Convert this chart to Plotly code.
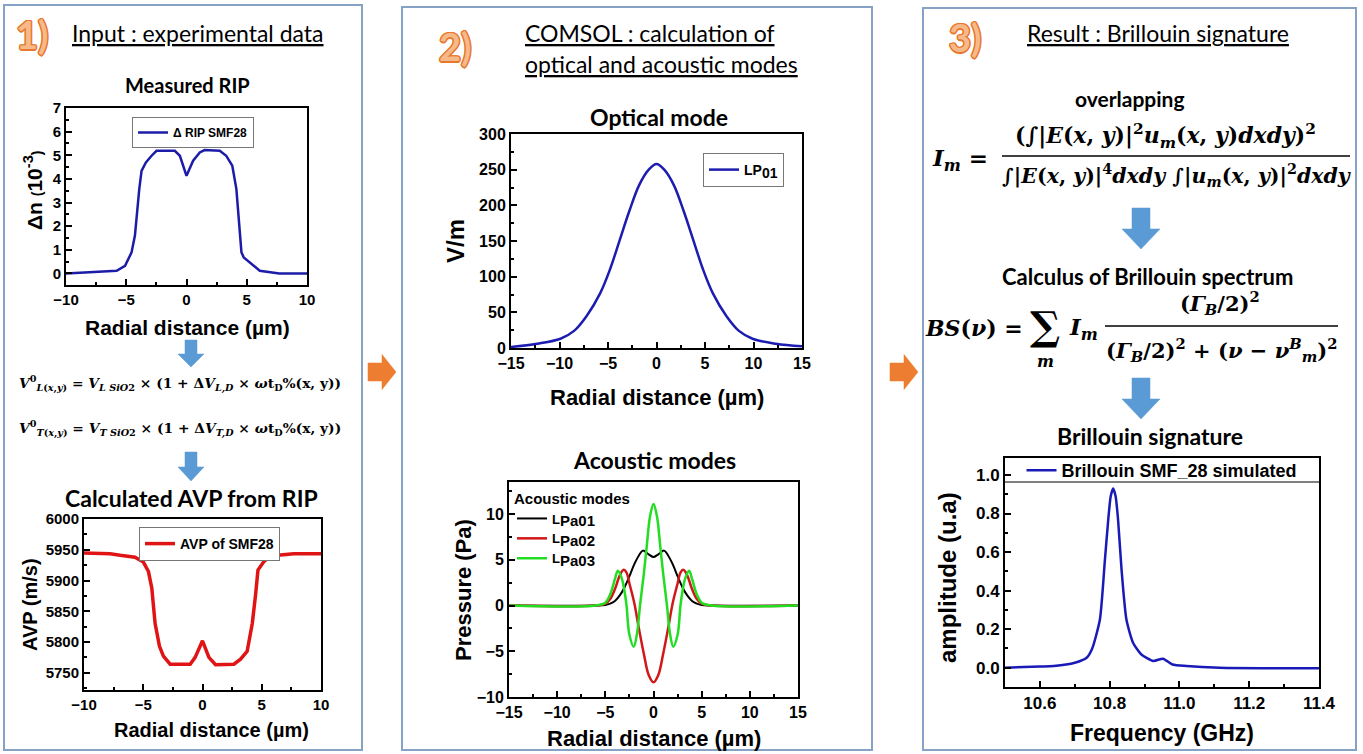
import plotly.graph_objects as go

W, H = 1363, 754

# ------------------------------------------------------------------ data
# Panel 1 - measured refractive index profile (RIP)
rip_x = [-10, -7.2, -5.8, -5.1, -4.56, -4.28, -4.14, -3.92, -3.73, -3.37, -2.9, -2.49,
         -0.97, -0.55, 0, 0.55, 1.1, 1.5, 2.76, 3.3, 3.8, 4.14, 4.36, 4.56, 4.75, 5.25,
         6.08, 7.7, 10]
rip_y = [0, 0.07, 0.11, 0.32, 0.89, 1.6, 2.44, 3.57, 4.34, 4.70, 4.98, 5.19,
         5.19, 4.98, 4.13, 4.77, 5.12, 5.22, 5.19, 4.98, 4.56, 3.57, 2.16, 0.89, 0.68, 0.47,
         0.11, 0.0, 0]

# Panel 1 - acoustic velocity profile (AVP)
avp_x = [-10, -7.8, -6.96, -5.7, -4.99, -4.56, -4.28, -4.0, -3.63, -3.3, -2.73, -1.04,
         -0.62, 0, 0.54, 1.1, 2.65, 3.21, 3.77, 4.2, 4.48, 4.68, 5.15, 5.7, 7.7, 10]
avp_y = [5944.6, 5943.6, 5941, 5938, 5930, 5914.6, 5888, 5830, 5793, 5777, 5764, 5764,
         5775, 5802, 5775, 5763, 5764, 5772, 5785, 5830, 5877, 5917, 5930, 5940, 5943.6, 5943.6]

# Panel 2 - optical mode LP01
opt_x = [-15, -12.3, -9.9, -8.5, -7.2, -5.8, -4.8, -3.8, -2.8, -1.8, -0.8, 0, 0.8,
         1.8, 2.8, 3.8, 4.8, 5.8, 7.2, 8.5, 9.9, 12.3, 15]
opt_y = [1.4, 6, 13, 24, 45, 77, 110, 151, 192, 228, 250, 258, 250,
         228, 192, 151, 110, 77, 45, 24, 13, 6, 2.3]

# Panel 2 - acoustic modes
ac_x1 = [-15, -6, -5, -4.5, -4, -3.5, -3, -2.5, -2, -1.5, -1.1, -0.5, 0,
         0.5, 1.1, 1.5, 2, 2.5, 3, 3.5, 4, 4.5, 5, 6, 15]
ac_y1 = [0, 0, 0.05, 0.2, 0.5, 1.1, 2.0, 3.2, 4.5, 5.5, 6.0, 5.6, 5.3,
         5.6, 6.0, 5.5, 4.5, 3.2, 2.0, 1.1, 0.5, 0.2, 0.05, 0, 0]
ac_x2 = [-15, -6, -5, -4.5, -4, -3.5, -3.1, -2.8, -2.5, -2, -1.5, -1, -0.5, 0,
         0.5, 1, 1.5, 2, 2.5, 2.8, 3.1, 3.5, 4, 4.5, 5, 6, 15]
ac_y2 = [0, 0, 0.2, 0.7, 1.8, 3.3, 3.9, 3.6, 2.4, 0.3, -2.6, -5.3, -7.6, -8.4,
         -7.6, -5.3, -2.6, 0.3, 2.4, 3.6, 3.9, 3.3, 1.8, 0.7, 0.2, 0, 0]
ac_x3 = [-15, -6, -5, -4.5, -4, -3.7, -3.3, -3, -2.8, -2.5, -2.05, -1.7, -1.4, -1.0, -0.7,
         -0.35, 0, 0.35, 0.7, 1.0, 1.4, 1.7, 2.05, 2.5, 2.8, 3, 3.3, 3.7, 4, 4.5, 5, 6, 15]
ac_y3 = [0, 0, 0.3, 1.2, 2.9, 3.8, 3.0, 1.5, 0, -3.2, -4.5, -3.0, 0, 3.5, 6.5,
         9.8, 11.1, 9.8, 6.5, 3.5, 0, -3.0, -4.5, -3.2, 0, 1.5, 3.0, 3.8, 2.9, 1.2, 0.3, 0, 0]

# Panel 3 - Brillouin spectrum
bs_x = [10.5, 10.6, 10.64, 10.7, 10.734, 10.75, 10.772, 10.786, 10.796, 10.803, 10.81,
        10.817, 10.824, 10.834, 10.848, 10.867, 10.89, 10.925, 10.953, 10.98, 11.02,
        11.115, 11.4]
bs_y = [0.0, 0.006, 0.009, 0.026, 0.052, 0.1, 0.25, 0.55, 0.77, 0.89, 0.93,
        0.89, 0.77, 0.51, 0.25, 0.13, 0.07, 0.035, 0.047, 0.017, 0.009,
        0.0, -0.003]

# ------------------------------------------------------------------ helpers
def fx(x):
    return x / W

def fy(y):
    return 1 - y / H

def dom_x(a, b):
    return [a / W, b / W]

def dom_y(top, bot):
    return [1 - bot / H, 1 - top / H]

def tickfont(s):
    return dict(family="Liberation Sans", size=s, color="black", weight="bold")

def axis(domain, rng, dtick, mdtick, anchor, fs=14, tick0=None, fmt=None):
    d = dict(domain=domain, range=rng, dtick=dtick, anchor=anchor, showline=True,
             linecolor="black", linewidth=2, mirror=True, ticks="inside", ticklen=6,
             tickwidth=1.5, tickcolor="black", showgrid=False, zeroline=False,
             tickfont=tickfont(fs), fixedrange=True,
             minor=dict(dtick=mdtick, ticks="inside", ticklen=3, tickwidth=1.5,
                        tickcolor="black", showgrid=False))
    if tick0 is not None:
        d["tick0"] = tick0
        d["minor"]["tick0"] = tick0
    if fmt:
        d["tickformat"] = fmt
    return d

def sub_name(base, sub, size):
    return f"{base}<sub><span style='font-size:{size}px'>{sub}</span></sub>"

fig = go.Figure()

fig.add_trace(go.Scatter(x=rip_x, y=rip_y, mode="lines", name="Δ RIP SMF28",
                         line=dict(color="#1c1ca8", width=2.5), xaxis="x", yaxis="y",
                         legend="legend"))
fig.add_trace(go.Scatter(x=avp_x, y=avp_y, mode="lines", name="AVP of SMF28",
                         line=dict(color="#e01414", width=3.5), xaxis="x2", yaxis="y2",
                         legend="legend2"))
fig.add_trace(go.Scatter(x=opt_x, y=opt_y, mode="lines", name=sub_name("LP", "01", 14),
                         line=dict(color="#1c1cb0", width=2.5, shape="spline"),
                         xaxis="x3", yaxis="y3", legend="legend3"))
fig.add_trace(go.Scatter(x=ac_x1, y=ac_y1, mode="lines", name=sub_name("L", "Pa01", 15),
                         line=dict(color="black", width=2, shape="spline"),
                         xaxis="x4", yaxis="y4", legend="legend4"))
fig.add_trace(go.Scatter(x=ac_x2, y=ac_y2, mode="lines", name=sub_name("L", "Pa02", 15),
                         line=dict(color="#d01818", width=2.5, shape="spline"),
                         xaxis="x4", yaxis="y4", legend="legend4"))
fig.add_trace(go.Scatter(x=ac_x3, y=ac_y3, mode="lines", name=sub_name("L", "Pa03", 15),
                         line=dict(color="#22dd22", width=2.5, shape="spline"),
                         xaxis="x4", yaxis="y4", legend="legend4"))
fig.add_trace(go.Scatter(x=bs_x, y=bs_y, mode="lines", name="Brillouin SMF_28 simulated",
                         line=dict(color="#1a1ab8", width=2.5, shape="spline", smoothing=0.6),
                         xaxis="x5", yaxis="y5", legend="legend5"))

legfont = dict(family="Liberation Sans", size=12, color="black", weight="bold")

layout = dict(
    width=W, height=H, margin=dict(l=0, r=0, t=0, b=0, autoexpand=False),
    paper_bgcolor="white", plot_bgcolor="white", showlegend=True,
    xaxis=axis(dom_x(66, 307), [-10, 10], 5, 2.5, "y", fs=15),
    yaxis=axis(dom_y(108, 285), [-0.49, 7], 1, 0.5, "x", fs=15),
    xaxis2=axis(dom_x(84, 321), [-10, 10], 5, 2.5, "y2", fs=15),
    yaxis2=axis(dom_y(519, 690), [5722, 6000], 50, 25, "x2", fs=15, tick0=5750),
    xaxis3=axis(dom_x(511, 802), [-15, 15], 5, 2.5, "y3", fs=16),
    yaxis3=axis(dom_y(134, 348), [0, 300], 50, 25, "x3", fs=16),
    xaxis4=axis(dom_x(509, 798), [-15, 15], 5, 2.5, "y4", fs=16),
    yaxis4=axis(dom_y(482, 697), [-10, 13.5], 5, 2.5, "x4", fs=16),
    xaxis5=axis(dom_x(1005, 1319), [10.5, 11.4], 0.2, 0.1, "y5", fs=17, tick0=10.6, fmt=".1f"),
    yaxis5=axis(dom_y(458, 687), [-0.1, 1.088], 0.2, 0.1, "x5", fs=17, tick0=0, fmt=".1f"),
    legend=dict(x=fx(132), y=fy(117), xanchor="left", yanchor="top", bgcolor="white",
                bordercolor="#777777", borderwidth=1, font=legfont, itemwidth=30),
    legend2=dict(x=fx(139), y=fy(527), xanchor="left", yanchor="top", bgcolor="white",
                 bordercolor="#777777", borderwidth=1, font=dict(legfont, size=14), itemwidth=30),
    legend3=dict(x=fx(703), y=fy(153), xanchor="left", yanchor="top", bgcolor="white",
                 bordercolor="#777777", borderwidth=1, font=dict(legfont, size=14), itemwidth=30),
    legend4=dict(x=fx(512), y=fy(484), xanchor="left", yanchor="top",
                 bgcolor="rgba(0,0,0,0)", borderwidth=0, font=dict(legfont, size=13),
                 itemwidth=30, tracegroupgap=0,
                 title=dict(text="Acoustic modes", font=dict(legfont, size=15))),
    legend5=dict(x=fx(1162), y=fy(452), xanchor="center", yanchor="top",
                 bgcolor="rgba(0,0,0,0)", borderwidth=0, font=dict(legfont, size=18),
                 itemwidth=30),
)
fig.update_layout(**layout)

# ------------------------------------------------------------------ annotations
ann = []

def text(t, x, y, size, family="Lato", color="black", angle=0, xanchor="center",
         yanchor="middle", shadow=None):
    f = dict(family=family, size=size, color=color)
    if shadow:
        f["shadow"] = shadow
    ann.append(dict(text=t, x=fx(x), y=fy(y), xref="paper", yref="paper", showarrow=False,
                    xanchor=xanchor, yanchor=yanchor, textangle=angle, font=f))

NUM_FILL = "#f6b98a"
NUM_EDGE = "#e8782e"
OUTLINE = ("1.5px 0 0 {c}, -1.5px 0 0 {c}, 0 1.5px 0 {c}, 0 -1.5px 0 {c}, "
           "1px 1px 0 {c}, -1px -1px 0 {c}, 1px -1px 0 {c}, -1px 1px 0 {c}").format(c=NUM_EDGE)
SANS = "Liberation Sans"
SERIF = "DejaVu Serif"

# headers
text("<b>1)</b>", 32, 34, 38, color=NUM_FILL, shadow=OUTLINE)
text("<u>Input : experimental data</u>", 198, 33, 23)
text("<b>2)</b>", 455, 46, 38, color=NUM_FILL, shadow=OUTLINE)
text("<u>COMSOL : calculation of</u>", 523, 33, 23, xanchor="left")
text("<u>optical and acoustic modes</u>", 523, 64, 23, xanchor="left")
text("<b>3)</b>", 965, 37, 38, color=NUM_FILL, shadow=OUTLINE)
text("<u>Result : Brillouin signature</u>", 1158, 33, 23)

# plot titles
text("<b>Measured RIP</b>", 187, 85, 20)
text("<b>Calculated AVP from RIP</b>", 191, 498, 23)
text("<b>Optical mode</b>", 659, 117, 23)
text("<b>Acoustic modes</b>", 654, 460, 23)
text("<b>overlapping</b>", 1130, 99, 21)
text("<b>Calculus of Brillouin spectrum</b>", 1147, 276, 22)
text("<b>Brillouin signature</b>", 1150, 436, 23)

# axis titles
text("<b>Radial distance (µm)</b>", 187, 327, 21, family=SANS)
text("<b>Δn <span style='font-size:14px'>(</span>10<sup>-3</sup><span style='font-size:14px'>)</span></b>",
     33, 190, 21, family=SANS, angle=-90)
text("<b>Radial distance (µm)</b>", 211, 730, 20, family=SANS)
text("<b>AVP (m/s)</b>", 30, 605, 20, family=SANS, angle=-90)
text("<b>Radial distance (µm)</b>", 657, 397, 22, family=SANS)
text("<b>V/m</b>", 455, 241, 24, family=SANS, angle=-90)
text("<b>Radial distance (µm)</b>", 654, 738, 22, family=SANS)
text("<b>Pressure (Pa)</b>", 463, 590, 22, family=SANS, angle=-90)
text("<b>Frequency (GHz)</b>", 1162, 733, 23, family=SANS)
text("<b>amplitude (u.a)</b>", 947, 578, 24, family=SANS, angle=-90)

# panel 1 equations
text("<b><i>V</i><sup>0</sup><sub><i>L</i>(<i>x</i>,<i>y</i>)</sub> = <i>V</i><sub><i>L SiO</i>2</sub>"
     " × (1 + Δ<i>V</i><sub><i>L,D</i></sub> × <i>ω</i>t<sub>D</sub>%(x, y))</b>",
     180, 383, 13.8, family=SERIF)
text("<b><i>V</i><sup>0</sup><sub><i>T</i>(<i>x</i>,<i>y</i>)</sub> = <i>V</i><sub><i>T SiO</i>2</sub>"
     " × (1 + Δ<i>V</i><sub><i>T,D</i></sub> × <i>ω</i>t<sub>D</sub>%(x, y))</b>",
     180, 428, 13.8, family=SERIF)

# panel 3 overlap integral
text("<b><i>I</i><sub><i>m</i></sub> =</b>", 960, 159, 23, family=SERIF)
text("<b>(∫|<i>E</i>(<i>x</i>, <i>y</i>)|<sup>2</sup><i>u</i><sub><i>m</i></sub>"
     "(<i>x</i>, <i>y</i>)<i>dxdy</i>)<sup>2</sup></b>", 1165, 136, 22, family=SERIF)
text("<b>∫|<i>E</i>(<i>x</i>, <i>y</i>)|<sup>4</sup><i>dxdy</i> ∫|<i>u</i><sub><i>m</i></sub>"
     "(<i>x</i>, <i>y</i>)|<sup>2</sup><i>dxdy</i></b>", 1177, 175, 20.5, family=SERIF)

# panel 3 Brillouin spectrum formula
text("<b><i>BS</i>(<i>ν</i>) =</b>", 974, 328, 22, family=SERIF)
text("<b>∑</b>", 1045, 326, 40, family=SERIF)
text("<b><i>m</i></b>", 1045, 362, 16, family=SERIF)
text("<b><i>I</i><sub><i>m</i></sub></b>", 1083, 329, 23, family=SERIF)
text("<b>(<i>Γ</i><sub><i>B</i></sub>/2)<sup>2</sup></b>", 1220, 303, 21, family=SERIF)
text("<b>(<i>Γ</i><sub><i>B</i></sub>/2)<sup>2</sup> + (<i>ν</i> − <i>ν</i><sup><i>B</i></sup>"
     "<sub><i>m</i></sub>)<sup>2</sup></b>", 1221, 350, 21, family=SERIF)

fig.update_layout(annotations=ann)

# ------------------------------------------------------------------ shapes
shapes = []

def P(x, y):
    return f"{fx(x):.5f},{fy(y):.5f}"

def rect(x0, y0, x1, y1, color, width):
    shapes.append(dict(type="rect", xref="paper", yref="paper", x0=fx(x0), x1=fx(x1),
                       y0=fy(y1), y1=fy(y0), line=dict(color=color, width=width),
                       fillcolor="rgba(0,0,0,0)", layer="below"))

def hline(x0, x1, y, width=1.5, color="black"):
    shapes.append(dict(type="line", xref="paper", yref="paper", x0=fx(x0), x1=fx(x1),
                       y0=fy(y), y1=fy(y), line=dict(color=color, width=width)))

def down_arrow(cx, y0, y1, sw, hw, hh, color):
    ys = y1 - hh
    pts = [(cx - sw / 2, y0), (cx + sw / 2, y0), (cx + sw / 2, ys), (cx + hw / 2, ys),
           (cx, y1), (cx - hw / 2, ys), (cx - sw / 2, ys)]
    shapes.append(dict(type="path", xref="paper", yref="paper",
                       path="M " + " L ".join(P(*p) for p in pts) + " Z",
                       fillcolor=color, line=dict(color=color, width=0.5)))

def right_arrow(x0, x1, cy, sh, hh, hw, color):
    xs = x1 - hw
    pts = [(x0, cy - sh / 2), (xs, cy - sh / 2), (xs, cy - hh / 2), (x1, cy),
           (xs, cy + hh / 2), (xs, cy + sh / 2), (x0, cy + sh / 2)]
    shapes.append(dict(type="path", xref="paper", yref="paper",
                       path="M " + " L ".join(P(*p) for p in pts) + " Z",
                       fillcolor=color, line=dict(color=color, width=0.5)))

BOX = "#86a2c4"
rect(4, 5, 362, 750, BOX, 2)
rect(402, 7, 872, 750, BOX, 2)
rect(923, 8, 1356, 750, BOX, 2)

BLUE = "#5b9bd5"
down_arrow(191, 340, 367, 12, 26, 13, BLUE)
down_arrow(191, 452, 481, 12, 26, 14, BLUE)
down_arrow(1141, 208, 249, 18, 38, 20, BLUE)
down_arrow(1141, 378, 419, 18, 38, 20, BLUE)

ORG = "#ed7d31"
right_arrow(368, 396, 372, 18, 35, 14, ORG)
right_arrow(890, 918, 372, 18, 35, 14, ORG)

# fraction bars
hline(1002, 1350, 156, 1.5)
hline(1105, 1338, 326, 1.5)
# legend box bottom line in Brillouin plot
hline(1005, 1319, 482, 1)

fig.update_layout(shapes=shapes)

fig.write_html("out.html",
               post_script="document.body.style.margin='0px';"
                           "document.body.style.overflow='hidden';")
